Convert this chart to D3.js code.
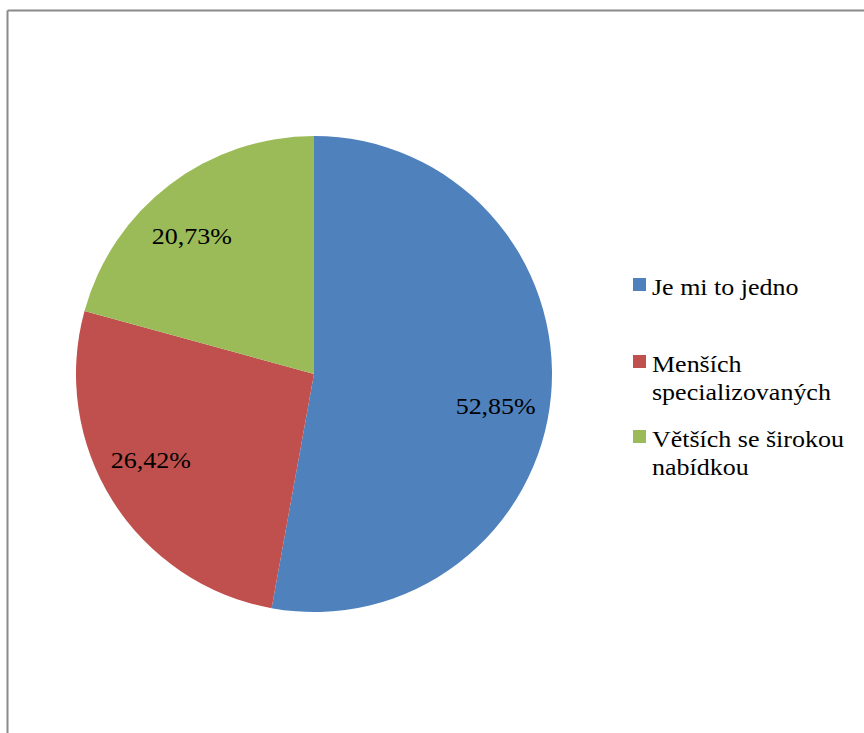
<!DOCTYPE html>
<html>
<head>
<meta charset="utf-8">
<script src="https://cdn.jsdelivr.net/npm/d3@7"></script>
<style>
  html, body { margin: 0; padding: 0; background: #fff; }
  svg { display: block; }
</style>
</head>
<body>
<svg id="chart" width="864" height="733"></svg>
<script>
// Preferred shop type – share of respondents
const categories = ["Je mi to jedno", "Menších specializovaných", "Větších se širokou nabídkou"];
const legendLines = [["Je mi to jedno"], ["Menších", "specializovaných"], ["Větších se širokou", "nabídkou"]];
const values = [52.85, 26.42, 20.73];
const valueLabels = ["52,85%", "26,42%", "20,73%"];
const colors = ["#4F81BD", "#C0504D", "#9BBB59"];

const FONT = "Times New Roman, Times, Liberation Serif, Tinos, Nimbus Roman, Nimbus Roman No9 L, FreeSerif, Noto Serif, serif";

const svg = d3.select("#chart");

// chart frame (top and left edges visible)
svg.append("line").attr("x1", 7.5).attr("y1", 10.5).attr("x2", 864).attr("y2", 10.5)
  .attr("stroke", "#8a8a8a").attr("stroke-width", 2);
svg.append("line").attr("x1", 7.5).attr("y1", 10.5).attr("x2", 7.5).attr("y2", 733)
  .attr("stroke", "#8a8a8a").attr("stroke-width", 2);

const cx = 314, cy = 374, r = 238;
const color = d3.scaleOrdinal().domain(categories).range(colors);

const pie = d3.pie().sort(null).value(d => d.value);
const data = categories.map((c, i) => ({ cat: c, value: values[i], label: valueLabels[i] }));
const arcs = pie(data);
const arc = d3.arc().innerRadius(0).outerRadius(r);

const g = svg.append("g").attr("transform", `translate(${cx},${cy})`);
g.selectAll("path").data(arcs).enter().append("path")
  .attr("d", arc)
  .attr("fill", d => color(d.data.cat));

// data labels: placed along a slightly rotated mid-angle inside each slice
const labelRadius = r * 0.775;
const labelAngleShift = [4.8, 4.4, -4.2]; // degrees, best-fit nudge per slice
g.selectAll("text.val").data(arcs).enter().append("text")
  .attr("class", "val")
  .attr("transform", (d, i) => {
    const a = (d.startAngle + d.endAngle) / 2 + labelAngleShift[i] * Math.PI / 180;
    const x = labelRadius * Math.sin(a), y = -labelRadius * Math.cos(a);
    return `translate(${x},${y}) scale(1.13,1)`;
  })
  .attr("text-anchor", "middle")
  .attr("dy", "0.35em")
  .style("font-family", FONT)
  .style("font-size", "23px")
  .attr("fill", "#000")
  .text(d => d.data.label);

// legend
const legendTops = [278, 355, 430];
const lg = svg.append("g");
legendLines.forEach((lines, i) => {
  lg.append("rect")
    .attr("x", 633).attr("y", legendTops[i])
    .attr("width", 13).attr("height", 13)
    .attr("fill", colors[i]);
  lines.forEach((ln, j) => {
    lg.append("text")
      .attr("transform", `translate(652,${legendTops[i] + 17 + j * 27.5}) scale(1.13,1)`)
      .style("font-family", FONT)
      .style("font-size", "23px")
      .attr("fill", "#000")
      .text(ln);
  });
});
</script>
</body>
</html>
